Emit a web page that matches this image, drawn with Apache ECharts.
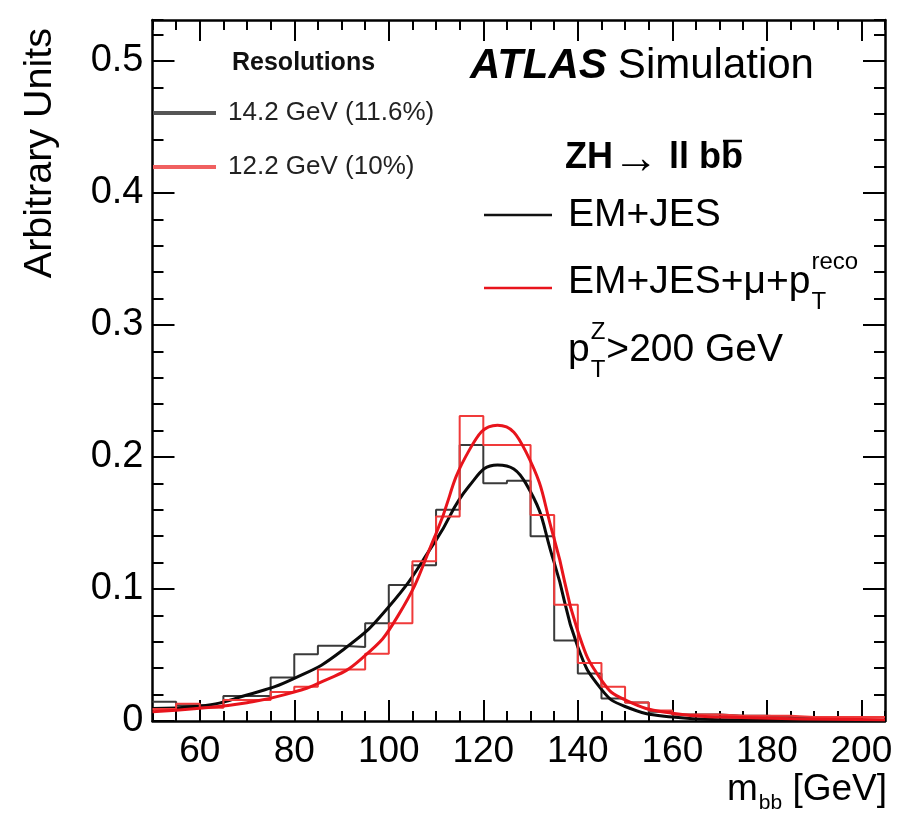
<!DOCTYPE html>
<html><head><meta charset="utf-8">
<script src="https://cdn.jsdelivr.net/npm/echarts@6/dist/echarts.min.js"></script>
<style>html,body{margin:0;padding:0;background:#fff}#c{width:899px;height:814px}</style>
</head><body><div id="c"></div>
<script>
// ---- data ----
const binEdges = [50,55,60,65,70,75,80,85,90,95,100,105,110,115,120,125,130,135,140,145,150,155,160,165,170,175,180,185,190,195,200,205];
const histEMJES = [0.0146,0.012,0.0105,0.019,0.019,0.033,0.0505,0.057,0.056,0.074,0.103,0.118,0.160,0.209,0.180,0.182,0.140,0.061,0.036,0.017,0.014,0.007,0.005,0.005,0.004,0.004,0.003,0.003,0.003,0.003,0.003];
const histEMJESmu = [0.009,0.013,0.010,0.016,0.016,0.022,0.026,0.039,0.039,0.051,0.074,0.121,0.155,0.231,0.209,0.209,0.156,0.088,0.044,0.026,0.014,0.008,0.005,0.005,0.004,0.004,0.004,0.003,0.003,0.003,0.003];
const fitEMJES_x = [50,60,70,80,90,100,110,117,123,129,135,140,145,150,160,170,205];
const fitEMJES_y = [0.0095,0.0114,0.0197,0.0323,0.053,0.0866,0.137,0.178,0.194,0.180,0.120,0.056,0.024,0.011,0.003,0.001,0.0002];
const fitEMJESmu_x = [50,60,70,78,86,94,102,110,117,123,129,135,140,145,150,160,170,205];
const fitEMJESmu_y = [0.007,0.0096,0.0139,0.0200,0.0300,0.0465,0.080,0.142,0.205,0.224,0.204,0.138,0.068,0.031,0.016,0.0058,0.003,0.001];
const xMajorTicks = [60,80,100,120,140,160,180,200];
const yMajorTicks = [0,0.1,0.2,0.3,0.4,0.5];
const yTickLabels = ['0','0.1','0.2','0.3','0.4','0.5'];

// ---- layout ----
const FF = '"Liberation Sans", Arial, Helvetica, sans-serif';
const chart = echarts.init(document.getElementById('c'), null, {renderer:'canvas'});
const ctx = document.createElement('canvas').getContext('2d');
function tw(text, size, weight, style){ ctx.font = (style||'normal')+' '+(weight||'normal')+' '+size+'px '+FF; return ctx.measureText(text).width; }

const frame = {color:'#000', width:2.5};
const tickStyle = {color:'#000', width:2};
function xAx(pos, major, labels){
  return {type:'value', min:50, max:205, position:pos, gridIndex:0,
    interval: major?undefined:5,
    axisLine:{show:!major, onZero:false, lineStyle:frame},
    axisTick: major ? {show:true, inside:true, length:21, customValues:xMajorTicks, lineStyle:tickStyle}
                    : {show:true, inside:true, length:10, lineStyle:tickStyle},
    axisLabel: labels ? {show:true, customValues:xMajorTicks, fontSize:37, fontFamily:FF, color:'#000', margin:12}
                      : {show:false},
    splitLine:{show:false}};
}
function yAx(pos, major, labels){
  return {type:'value', min:0, max:0.531, position:pos, gridIndex:0,
    interval: major?undefined:0.02,
    axisLine:{show:!major, onZero:false, lineStyle:frame},
    axisTick: major ? {show:true, inside:true, length:22, customValues:yMajorTicks, lineStyle:tickStyle}
                    : {show:true, inside:true, length:11, lineStyle:tickStyle},
    axisLabel: labels ? {show:true, customValues:yMajorTicks, fontSize:38, fontFamily:FF, color:'#000', margin:9,
                        formatter:(v)=>yTickLabels[yMajorTicks.indexOf(v)] ?? String(v)}
                      : {show:false},
    splitLine:{show:false}};
}
function histData(vals){ return binEdges.map((e,i)=>[e, vals[Math.min(i, vals.length-1)]]); }
function curveData(xs, ys){ return xs.map((x,i)=>[x, ys[i]]); }

const g = [];
function txt(x, y, text, size, opt){
  opt = opt||{};
  g.push({type:'text', x:x, y:y, rotation:opt.rot||0, z:100, style:{text:text, fill:opt.fill||'#000', fontSize:size, fontFamily:FF,
    fontWeight:opt.weight||'normal', fontStyle:opt.style||'normal', align:opt.align||'left', verticalAlign:opt.va||'middle'}});
}
function ln(x1,y1,x2,y2,color,w){ g.push({type:'line', z:100, shape:{x1,y1,x2,y2}, style:{stroke:color, lineWidth:w}}); }

// Resolutions box
txt(232, 63, 'Resolutions', 25, {weight:'bold', fill:'#111'});
ln(153, 113, 216, 113, '#555', 4);
txt(228, 113, '14.2 GeV (11.6%)', 26, {fill:'#222'});
ln(153, 167, 216, 167, '#f06060', 4);
txt(228, 167, '12.2 GeV (10%)', 26, {fill:'#222'});
// ATLAS Simulation
txt(470, 66, 'ATLAS', 42, {weight:'bold', style:'italic'});
txt(470 + tw('ATLAS', 42, 'bold', 'italic') + 11, 66, 'Simulation', 42);
// ZH -> ll bb
(function(){
  let x = 565, y = 158, s = 36;
  txt(x, y, 'ZH', s, {weight:'bold'}); x += tw('ZH', s, 'bold');
  txt(x, y + 2, '\u2192', 46); x += tw('\u2192', 46) + 10;
  txt(x, y, 'll bb', s, {weight:'bold'});
  const wAll = tw('ll bb', s, 'bold'), wb = tw('b', s, 'bold');
  ln(x + wAll - wb + 2, y - 17, x + wAll - 1, y - 17, '#000', 2.5);
})();
// Legend
ln(484, 215, 552, 215, '#111', 2.5);
txt(568, 215, 'EM+JES', 39);
ln(484, 288, 552, 288, '#e8141c', 2.5);
(function(){
  const base = 'EM+JES+\u03bc+p', s = 39;
  txt(568, 282, base, s);
  const w = tw(base, s);
  txt(568 + w + 1, 262, 'reco', 24);
  txt(568 + w + 1, 302, 'T', 24);
})();
(function(){
  const s = 39;
  txt(568, 350, 'p', s);
  const w = tw('p', s);
  txt(568 + w + 1, 332, 'Z', 24);
  txt(568 + w + 1, 370, 'T', 24);
  txt(568 + w + 1 + tw('Z',24) + 1, 350, '>200 GeV', s);
})();
// Axis titles
txt(40, 28, 'Arbitrary Units', 39.5, {rot:Math.PI/2, align:'right'});
(function(){
  const s = 37, ss = 21;
  const w1 = tw('m', s), w2 = tw('bb', ss), w3 = tw(' [GeV]', s);
  const x0 = 886 - (w1 + w2 + w3);
  txt(x0, 790, 'm', s);
  txt(x0 + w1 + 1, 803, 'bb', ss);
  txt(x0 + w1 + w2 + 1, 790, ' [GeV]', s);
})();

const option = {
  animation:false,
  backgroundColor:'#fff',
  grid:{left:152.5, right:14, top:20, bottom:93, containLabel:false},
  xAxis:[xAx('bottom',false,false), xAx('bottom',true,true), xAx('top',false,false), xAx('top',true,false)],
  yAxis:[yAx('left',false,false), yAx('left',true,true), yAx('right',false,false), yAx('right',true,false)],
  series:[
    {name:'EM+JES hist', type:'line', step:'end', data:histData(histEMJES), symbol:'none',
      lineStyle:{color:'#3a3a3a', width:2}, z:2},
    {name:'EM+JES fit', type:'line', smooth:0.5, data:curveData(fitEMJES_x, fitEMJES_y), symbol:'none',
      lineStyle:{color:'#0a0a0a', width:3}, z:3},
    {name:'EM+JES+mu hist', type:'line', step:'end', data:histData(histEMJESmu), symbol:'none',
      lineStyle:{color:'#f03a3a', width:2}, z:4},
    {name:'EM+JES+mu fit', type:'line', smooth:0.5, data:curveData(fitEMJESmu_x, fitEMJESmu_y), symbol:'none',
      lineStyle:{color:'#e8141c', width:3}, z:5}
  ],
  graphic:g
};
chart.setOption(option);
</script></body></html>
